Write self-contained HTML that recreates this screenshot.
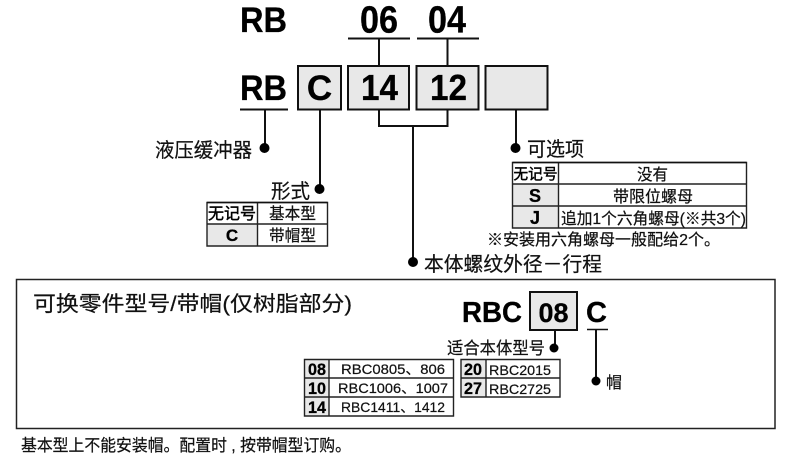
<!DOCTYPE html>
<html><head><meta charset="utf-8">
<style>
html,body{margin:0;padding:0;background:#fff;width:790px;height:457px;overflow:hidden}
svg{display:block}
text{font-family:"Liberation Sans","Noto Sans CJK SC",sans-serif;fill:#111;stroke:#111;stroke-width:.22px}
.b{font-weight:bold;fill:#000;stroke:#000;stroke-width:.3px}
.h{stroke-width:.45px;fill:#000;stroke:#000}
.l{stroke:#111;stroke-width:2;fill:none}
.t{stroke:#222;stroke-width:1.4;fill:none}
.g{fill:#e8e8e8}
.box{fill:#e8e8e8;stroke:#111;stroke-width:2}
</style></head><body>
<svg width="790" height="457" viewBox="0 0 790 457" xmlns="http://www.w3.org/2000/svg">
<!-- top row -->
<text class="b" x="240" y="32" font-size="35" textLength="47" lengthAdjust="spacingAndGlyphs">RB</text>
<text class="b" x="360" y="32.500" font-size="38" textLength="38" lengthAdjust="spacingAndGlyphs">06</text>
<text class="b" x="428" y="32.500" font-size="38" textLength="38" lengthAdjust="spacingAndGlyphs">04</text>
<path class="l" d="M348 38.500H410M417 38.500H479M379 38V65M447.500 38V65"/>
<text class="b" x="240" y="100" font-size="35" textLength="47" lengthAdjust="spacingAndGlyphs">RB</text>
<path class="l" d="M240 109.500H288M265 110V148"/>
<rect class="box" x="298" y="66" width="43" height="43.500"/>
<rect class="box" x="348" y="66" width="61" height="43.500"/>
<rect class="box" x="416.500" y="66" width="62" height="43.500"/>
<rect class="box" x="485.500" y="66" width="62" height="43.500"/>
<text class="b" x="319.500" y="100" font-size="35" text-anchor="middle">C</text>
<text class="b" x="361" y="100" font-size="36" textLength="37" lengthAdjust="spacingAndGlyphs">14</text>
<text class="b" x="430" y="100" font-size="36" textLength="37" lengthAdjust="spacingAndGlyphs">12</text>
<!-- connectors -->
<path class="l" d="M320 110V188M379 110V126H447.500V110M413 126V262M516 110V148"/>
<circle cx="264.500" cy="148" r="5" fill="#000"/>
<circle cx="319.500" cy="189" r="5" fill="#000"/>
<circle cx="413" cy="262" r="5" fill="#000"/>
<circle cx="515.500" cy="148" r="5" fill="#000"/>
<text x="155" y="157" font-size="20" textLength="97" lengthAdjust="spacingAndGlyphs">液压缓冲器</text>
<text x="271" y="198" font-size="20" textLength="39" lengthAdjust="spacingAndGlyphs">形式</text>
<text x="527" y="156" font-size="20" textLength="57" lengthAdjust="spacingAndGlyphs">可选项</text>
<text x="424" y="271" font-size="20" textLength="178" lengthAdjust="spacingAndGlyphs">本体螺纹外径－行程</text>
<!-- form table -->
<rect class="g" x="207" y="224" width="50" height="22"/>
<path class="t" d="M207 202.500H327.500V246H207ZM207 224H327.500M257.500 202.500V246"/>
<path d="M207 202.500H327.500" stroke="#111" stroke-width="1.500"/>
<text class="h" x="208" y="219" font-size="16" textLength="48" lengthAdjust="spacingAndGlyphs">无记号</text>
<text x="269" y="219" font-size="16" textLength="47" lengthAdjust="spacingAndGlyphs">基本型</text>
<text class="b" x="232" y="241" font-size="17" text-anchor="middle">C</text>
<text x="269" y="241" font-size="16" textLength="47" lengthAdjust="spacingAndGlyphs">带帽型</text>
<!-- option table -->
<rect class="g" x="512" y="184" width="46" height="44"/>
<path class="t" d="M512.500 162.500H746.500V228H512.500ZM512.500 184H746.500M512.500 206H746.500M558.500 162.500V228"/>
<path d="M512.500 162.500H746.500" stroke="#111" stroke-width="1.500"/>
<text class="h" x="513.500" y="179" font-size="15" textLength="44" lengthAdjust="spacingAndGlyphs">无记号</text>
<text x="637" y="180" font-size="16" textLength="31" lengthAdjust="spacingAndGlyphs">没有</text>
<text class="b" x="535" y="202" font-size="18" text-anchor="middle">S</text>
<text x="613" y="202" font-size="16" textLength="80" lengthAdjust="spacingAndGlyphs">带限位螺母</text>
<text class="b" x="535" y="224" font-size="18" text-anchor="middle">J</text>
<text x="561" y="224" font-size="16" textLength="185" lengthAdjust="spacingAndGlyphs">追加1个六角螺母(※共3个)</text>
<text x="487" y="245" font-size="16" textLength="233" lengthAdjust="spacingAndGlyphs">※安装用六角螺母一般配给2个。</text>
<!-- big box -->
<rect x="16.500" y="279.500" width="758.500" height="149" fill="none" stroke="#222" stroke-width="1.500"/>
<text x="33" y="311" font-size="21" textLength="319" lengthAdjust="spacingAndGlyphs">可换零件型号/带帽(仅树脂部分)</text>
<text class="b" x="462" y="322" font-size="29" textLength="60" lengthAdjust="spacingAndGlyphs">RBC</text>
<rect class="box" x="530" y="292" width="47" height="38"/>
<text class="b" x="538.500" y="322" font-size="27" textLength="30" lengthAdjust="spacingAndGlyphs">08</text>
<text class="b" x="596.500" y="322" font-size="29" text-anchor="middle">C</text>
<path class="l" d="M555 330V348"/>
<path d="M587 329.500H608" stroke="#111" stroke-width="1.500"/>
<path class="l" d="M596 330V381"/>
<circle cx="554" cy="348" r="4.500" fill="#000"/>
<circle cx="596" cy="381" r="4.500" fill="#000"/>
<text x="606" y="388" font-size="16">帽</text>
<text x="447" y="354" font-size="17" textLength="98" lengthAdjust="spacingAndGlyphs">适合本体型号</text>
<!-- replace tables -->
<rect class="g" x="304" y="359" width="25" height="57"/>
<rect class="g" x="461" y="359" width="25" height="38"/>
<path class="t" d="M304.500 359.500H453.500V416H304.500ZM304.500 378H453.500M304.500 397H453.500M329 359.500V416"/>
<path class="t" d="M461 359.500H560V397H461ZM461 378H560M486 359.500V397"/>
<g font-size="14">
<text class="b" x="308" y="375" font-size="17" textLength="18" lengthAdjust="spacingAndGlyphs">08</text>
<text x="341" y="374" textLength="104" lengthAdjust="spacingAndGlyphs">RBC0805、806</text>
<text class="b" x="308" y="394" font-size="17" textLength="18" lengthAdjust="spacingAndGlyphs">10</text>
<text x="338" y="393" textLength="110" lengthAdjust="spacingAndGlyphs">RBC1006、1007</text>
<text class="b" x="308" y="413" font-size="17" textLength="18" lengthAdjust="spacingAndGlyphs">14</text>
<text x="341" y="412" textLength="104" lengthAdjust="spacingAndGlyphs">RBC1411、1412</text>
<text class="b" x="464" y="375" font-size="17" textLength="18" lengthAdjust="spacingAndGlyphs">20</text>
<text x="489" y="375" textLength="62" lengthAdjust="spacingAndGlyphs">RBC2015</text>
<text class="b" x="464" y="394" font-size="17" textLength="18" lengthAdjust="spacingAndGlyphs">27</text>
<text x="489" y="394" textLength="62" lengthAdjust="spacingAndGlyphs">RBC2725</text>
</g>
<text x="21" y="451" font-size="16.500" textLength="330" lengthAdjust="spacingAndGlyphs">基本型上不能安装帽。配置时 , 按带帽型订购。</text>
</svg>
</body></html>
